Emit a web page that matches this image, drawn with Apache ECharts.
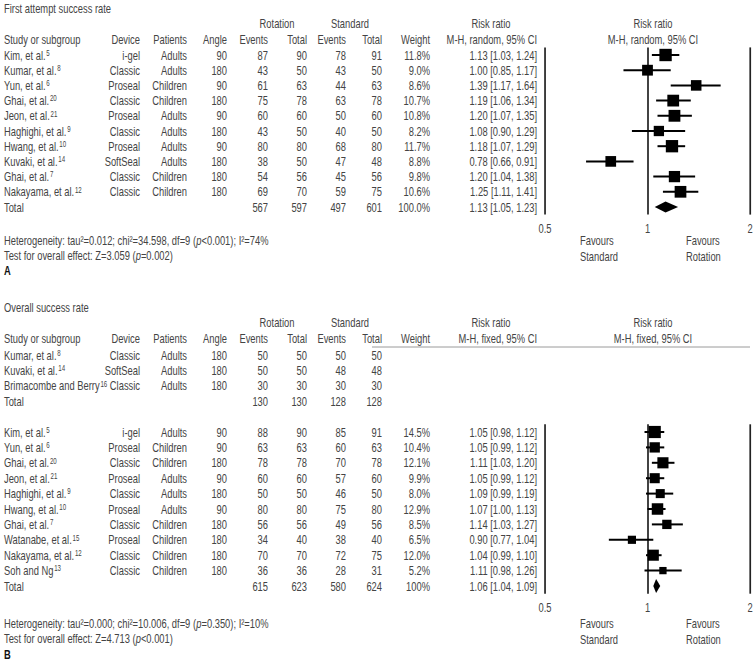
<!DOCTYPE html>
<html><head><meta charset="utf-8">
<script src="https://cdn.jsdelivr.net/npm/echarts@6/dist/echarts.min.js"></script>
<style>
html,body{margin:0;padding:0;background:#fff;overflow:hidden;width:756px;height:661px}
/* the reference uses a condensed face; emulate it by drawing wide and squeezing horizontally */
#wrap{width:756px;height:661px;overflow:hidden}
#c{width:1050px;height:661px;transform:scaleX(0.72);transform-origin:0 0}
</style>
</head><body><div id="wrap"><div id="c"></div></div>
<script>
// ---------- Panel A: First attempt success rate ----------
const studiesA = ['Kim, et al.⁵','Kumar, et al.⁸','Yun, et al.⁶','Ghai, et al.²⁰','Jeon, et al.²¹','Haghighi, et al.⁹','Hwang, et al.¹⁰','Kuvaki, et al.¹⁴','Ghai, et al.⁷','Nakayama, et al.¹²','Total'];
const deviceA = ['i-gel','Classic','Proseal','Classic','Proseal','Classic','Proseal','SoftSeal','Classic','Classic',''];
const patientsA = ['Adults','Adults','Children','Children','Adults','Adults','Adults','Adults','Children','Children',''];
const angleA = ['90','180','90','180','90','180','90','180','180','180',''];
const rotEventsA = [87,43,61,75,60,43,80,38,54,69,567];
const rotTotalA = [90,50,63,78,60,50,80,50,56,70,597];
const stdEventsA = [78,43,44,63,50,40,68,47,45,59,497];
const stdTotalA = [91,50,63,78,60,50,80,48,56,75,601];
const weightA = ['11.8%','9.0%','8.6%','10.7%','10.8%','8.2%','11.7%','8.8%','9.8%','10.6%','100.0%'];
const rrA = [1.13,1.00,1.39,1.19,1.20,1.08,1.18,0.78,1.20,1.25,1.13];
const loA = [1.03,0.85,1.17,1.06,1.07,0.90,1.07,0.66,1.04,1.11,1.05];
const hiA = [1.24,1.17,1.64,1.34,1.35,1.29,1.29,0.91,1.38,1.41,1.23];

// ---------- Panel B: Overall success rate ----------
const studiesB = ['Kumar, et al.⁸','Kuvaki, et al.¹⁴','Brimacombe and Berry¹⁶','Total','',
  'Kim, et al.⁵','Yun, et al.⁶','Ghai, et al.²⁰','Jeon, et al.²¹','Haghighi, et al.⁹','Hwang, et al.¹⁰','Ghai, et al.⁷','Watanabe, et al.¹⁵','Nakayama, et al.¹²','Soh and Ng¹³','Total'];
const deviceB = ['Classic','SoftSeal','Classic','','','i-gel','Proseal','Classic','Proseal','Classic','Proseal','Classic','Proseal','Classic','Classic',''];
const patientsB = ['Adults','Adults','Adults','','','Adults','Children','Children','Adults','Adults','Adults','Children','Children','Children','Children',''];
const angleB = ['180','180','180','','','90','90','180','90','180','90','180','180','180','180',''];
const rotEventsB = ['50','50','30','130','','88','63','78','60','50','80','56','34','70','36','615'];
const rotTotalB = ['50','50','30','130','','90','63','78','60','50','80','56','40','70','36','623'];
const stdEventsB = ['50','48','30','128','','85','60','70','57','46','75','49','38','72','28','580'];
const stdTotalB = ['50','48','30','128','','91','63','78','60','50','80','56','40','75','31','624'];
// plotted rows of panel B (second group)
const plotStudiesB = ['Kim, et al.⁵','Yun, et al.⁶','Ghai, et al.²⁰','Jeon, et al.²¹','Haghighi, et al.⁹','Hwang, et al.¹⁰','Ghai, et al.⁷','Watanabe, et al.¹⁵','Nakayama, et al.¹²','Soh and Ng¹³','Total'];
const weightB = ['14.5%','10.4%','12.1%','9.9%','8.0%','12.9%','8.5%','6.5%','12.0%','5.2%','100%'];
const rrB = [1.05,1.05,1.11,1.05,1.09,1.07,1.14,0.90,1.04,1.11,1.06];
const loB = [0.98,0.99,1.03,0.99,0.99,1.00,1.03,0.77,0.99,0.98,1.04];
const hiB = [1.12,1.12,1.20,1.12,1.19,1.13,1.27,1.04,1.10,1.26,1.09];

const xTicks = ['0.5','1','2'];

// ---------- build ----------
const SX = 0.72;                 // horizontal squeeze applied by CSS
const X = x => x / SX;           // page x -> drawing x
const FONT_FAM = '"Liberation Sans","Arimo",sans-serif';
const TXT = '#444';
const FS = 13;
const fmt = v => v.toFixed(2);
const rrTextA = rrA.map((v,i)=>`${fmt(v)} [${fmt(loA[i])}, ${fmt(hiA[i])}]`);
const rrTextB = studiesB.map((s,i)=>{ const j=i-5; return j>=0 ? `${fmt(rrB[j])} [${fmt(loB[j])}, ${fmt(hiB[j])}]` : ''; });
const weightColB = studiesB.map((s,i)=> i>=5 ? weightB[i-5] : '');

// superscript digits -> rich-text superscript fragment
const SUP = '⁰¹²³⁴⁵⁶⁷⁸⁹';
function supRich(str){
  return String(str).replace(/[⁰¹²³⁴⁵⁶⁷⁸⁹]+/g, m => '{s|' + m.split('').map(c=>SUP.indexOf(c)).join('') + '}');
}
const RICH = {
  s:{fontSize:8.5, fontFamily:FONT_FAM, color:TXT, verticalAlign:'top', lineHeight:9, padding:[0,0,0,1]},
};

const GL = X(545), GW = X(205);
const gridA = {left:GL, width:GW, top:47.4, height:167.2};
const gridBt = {left:GL, width:GW, top:347.3, height:246.4};
const gridBp = {left:GL, width:GW, top:347.3+5*15.4, height:11*15.4};

function colAxis(grid, data, rightX, isStudy){
  const lab = {interval:0, margin:0, align: isStudy ? 'left':'right', color:TXT, fontSize:FS, fontFamily:FONT_FAM};
  if (isStudy){ lab.formatter = v => supRich(v); lab.rich = RICH; }
  return {type:'category', gridIndex:grid, position:'left', inverse:true, data:data.map(String),
    offset: GL - X(rightX), axisLine:{show:false}, axisTick:{show:false}, splitLine:{show:false}, axisLabel:lab};
}
const colsRight = {study:4, device:140, patients:187, angle:227, rotEv:268, rotTot:307, stdEv:346, stdTot:382, weight:430, rr:537};

function tableAxes(grid, cols){
  const keys = ['study','device','patients','angle','rotEv','rotTot','stdEv','stdTot','weight','rr'];
  return keys.map((k,i)=>colAxis(grid, cols[i], colsRight[k], k==='study'));
}

function logAxis(grid){
  return {type:'log', logBase:2, min:0.5, max:2, gridIndex:grid,
    axisLine:{show:false}, axisTick:{show:false},
    splitLine:{show:true, lineStyle:{color:'#222', width:1.7/SX}},
    axisLabel:{margin:7, color:TXT, fontSize:FS, fontFamily:FONT_FAM,
      formatter: v => { const t = xTicks.find(s => Math.abs(parseFloat(s)-v) < 1e-6); return t || ''; }}};
}

const yAxes = [];
yAxes.push({type:'category', gridIndex:0, inverse:true, data:studiesA, show:false}); // 0
tableAxes(0, [studiesA, deviceA, patientsA, angleA, rotEventsA, rotTotalA, stdEventsA, stdTotalA, weightA, rrTextA]).forEach(a=>yAxes.push(a));
tableAxes(1, [studiesB, deviceB, patientsB, angleB, rotEventsB, rotTotalB, stdEventsB, stdTotalB, weightColB, rrTextB]).forEach(a=>yAxes.push(a));
const plotBAxisIndex = yAxes.length;
yAxes.push({type:'category', gridIndex:2, inverse:true, data:plotStudiesB, show:false});

function seriesData(rr, lo, hi, w){
  return rr.map((v,i)=>[v, lo[i], hi[i], i, parseFloat(w[i]), i===rr.length-1 ? 1 : 0]);
}
function makeRender(k, dh){
  return function(params, api){
    const y = api.value(3);
    const pM = api.coord([api.value(0), y]);
    const pL = api.coord([api.value(1), y]);
    const pH = api.coord([api.value(2), y]);
    if (api.value(5) === 1){
      return {type:'polygon', shape:{points:[[pL[0],pM[1]],[pM[0],pM[1]-dh],[pH[0],pM[1]],[pM[0],pM[1]+dh]]}, style:{fill:'#000'}};
    }
    const s = k*Math.sqrt(api.value(4));
    return {type:'group', children:[
      {type:'line', shape:{x1:pL[0],y1:pM[1],x2:pH[0],y2:pM[1]}, style:{stroke:'#000', lineWidth:2}},
      {type:'rect', shape:{x:pM[0]-s/2/SX, y:pM[1]-s/2, width:s/SX, height:s}, style:{fill:'#000'}}
    ]};
  };
}

// ---------- static text ----------
const g = [];
function T(text, x, y, align, extra){
  g.push({type:'text', x:X(x), y:y, silent:true,
    style:Object.assign({text:text, fill:TXT, font:`${FS}px ${FONT_FAM}`, textAlign:align||'left', textVerticalAlign:'middle',
      rich:{i:{fontStyle:'italic', fontSize:FS, fontFamily:FONT_FAM, fill:TXT}}}, extra||{})});
}
function headers(y0, title, method){
  T(title, 4, y0, 'left');
  T('Rotation', 277, y0+15, 'center');
  T('Standard', 350, y0+15, 'center');
  T('Risk ratio', 491, y0+15, 'center');
  T('Risk ratio', 653, y0+15, 'center');
  const y2 = y0+31;
  T('Study or subgroup', 4, y2, 'left');
  T('Device', 140, y2, 'right');
  T('Patients', 187, y2, 'right');
  T('Angle', 227, y2, 'right');
  T('Events', 268, y2, 'right');
  T('Total', 307, y2, 'right');
  T('Events', 346, y2, 'right');
  T('Total', 382, y2, 'right');
  T('Weight', 430, y2, 'right');
  T(method, 537, y2, 'right');
  T(method, 653, y2, 'center');
}
function footer(yH, het, test, letter, yL, yF){
  T(het, 4, yH, 'left');
  T(test, 4, yH+15.5, 'left');
  T(letter, 4, yL, 'left', {font:`bold 13px "Liberation Sans",sans-serif`, fill:'#111'});
  T('Favours', 580, yF, 'left'); T('Standard', 580, yF+16, 'left');
  T('Favours', 686, yF, 'left'); T('Rotation', 686, yF+16, 'left');
}
headers(8, 'First attempt success rate', 'M-H, random, 95% CI');
footer(240, 'Heterogeneity: tau²=0.012; chi²=34.598, df=9 ({i|p}<0.001); I²=74%', 'Test for overall effect: Z=3.059 ({i|p}=0.002)', 'A', 270, 240);
headers(307, 'Overall success rate', 'M-H, fixed, 95% CI');
g.push({type:'line', silent:true, shape:{x1:X(372), y1:347, x2:X(750), y2:347}, style:{stroke:'#8a8a8a', lineWidth:1}});
footer(623, 'Heterogeneity: tau²=0.000; chi²=10.006, df=9 ({i|p}=0.350); I²=10%', 'Test for overall effect: Z=4.713 ({i|p}<0.001)', 'B', 654.5, 623);

const chart = echarts.init(document.getElementById('c'), null, {renderer:'svg'});
chart.setOption({
  animation:false,
  backgroundColor:'#fff',
  grid:[gridA, gridBt, gridBp],
  xAxis:[logAxis(0), {type:'value', gridIndex:1, show:false}, logAxis(2)],
  yAxis:yAxes,
  series:[
    {type:'custom', xAxisIndex:0, yAxisIndex:0, renderItem:makeRender(3.6, 5.5), encode:{x:[0,1,2], y:3}, data:seriesData(rrA, loA, hiA, weightA), silent:true},
    {type:'custom', xAxisIndex:2, yAxisIndex:plotBAxisIndex, renderItem:makeRender(3.2, 7), encode:{x:[0,1,2], y:3}, data:seriesData(rrB, loB, hiB, weightB), silent:true}
  ],
  graphic:g
});
</script></body></html>
